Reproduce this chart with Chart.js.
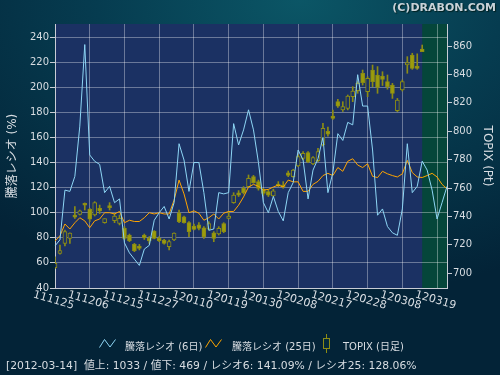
<!DOCTYPE html>
<html>
<head>
<meta charset="utf-8">
<script src="https://cdn.jsdelivr.net/npm/chart.js@4/dist/chart.umd.min.js"></script>
<style>
  body { margin: 0; }
  #wrap {
    position: relative; width: 500px; height: 375px; overflow: hidden;
    background: radial-gradient(ellipse 90% 80% at 60% 0%, #0b5666 0%, #063c50 45%, #032337 100%);
    font-family: 'DejaVu Sans', 'Noto Sans CJK JP', sans-serif; color: #d8dde2;
  }
  canvas { position: absolute; left: 0; top: 0; }
  .abs { position: absolute; white-space: nowrap; }
  #copy { right: 4px; top: 1px; font-size: 11px; font-weight: bold; color: #c9d2d8; text-shadow: 1px 1px 1px #022; }
  .lg { font-size: 10px; top: 338px; }
  #status { left: 6px; top: 356px; font-size: 10.8px; color: #d8dde2; }
</style>
</head>
<body>
<div id="wrap">
  <canvas id="chart" width="500" height="375"></canvas>
  <div id="copy" class="abs">(C)DRABON.COM</div>
  <svg class="abs" style="left:99px;top:338px" width="17" height="11"><polyline points="0.5,9.5 5.5,1.5 11,9 16.5,1.5" fill="none" stroke="#8ed6f5" stroke-width="1"/></svg>
  <div class="abs lg" style="left:125px">騰落レシオ (6日)</div>
  <svg class="abs" style="left:205px;top:338px" width="17" height="11"><polyline points="0.5,9.5 5.5,1.5 11,9 16.5,1.5" fill="none" stroke="#ffa500" stroke-width="1"/></svg>
  <div class="abs lg" style="left:232px">騰落レシオ (25日)</div>
  <svg class="abs" style="left:322px;top:334px" width="9" height="19"><line x1="4.5" y1="0" x2="4.5" y2="19" stroke="#8c8c14"/><rect x="1.5" y="4.5" width="6" height="10" fill="#032a3c" stroke="#8c8c14"/></svg>
  <div class="abs lg" style="left:343px">TOPIX (日足)</div>
  <div id="status" class="abs">[2012-03-14]&nbsp; 値上: 1033 / 値下: 469 / レシオ6: 141.09% / レシオ25: 128.06%</div>
</div>
<script>
// ---------- data ----------
const dates = [
  '111125', '111128', '111129', '111130', '111201', '111202', '111205',
  '111206', '111207', '111208', '111209', '111212', '111213', '111214',
  '111215', '111216', '111219', '111220', '111221', '111222', '111226',
  '111227', '111228', '111229', '111230', '120104', '120105', '120106',
  '120110', '120111', '120112', '120113', '120116', '120117', '120118',
  '120119', '120120', '120123', '120124', '120125', '120126', '120127',
  '120130', '120131', '120201', '120202', '120203', '120206', '120207',
  '120208', '120209', '120210', '120213', '120214', '120215', '120216',
  '120217', '120220', '120221', '120222', '120223', '120224', '120227',
  '120228', '120229', '120301', '120302', '120305', '120306', '120307',
  '120308', '120309', '120312', '120313', '120314', '120315', '120316',
  '120319', '120321', '120322',
];

// 騰落レシオ (6日)
const ratio6 = [
  73.6, 78.4, 118, 117, 129, 169, 234, 146, 141, 138.5,
  116, 121, 108, 111, 76, 68, 63, 58, 71, 74,
  94, 100, 105, 95, 108, 155, 142, 117, 140, 140,
  116, 86, 87, 116, 115, 116, 171, 154, 166, 182,
  166, 140, 108, 100, 113, 101, 93.5, 116, 124, 150,
  142, 111, 134, 143, 160, 116, 132, 163, 157.6, 172,
  170, 210, 185, 185, 150, 98, 103, 89, 84, 82,
  103, 155, 116, 121, 141.09, 134, 118, 95, 108, 121,
];

// 騰落レシオ (25日)
const ratio25 = [
  77.4, 81.6, 91, 87, 92, 96, 93.5, 88, 93.5, 95,
  100, 100, 99, 101, 92, 94, 93, 93, 96, 100,
  99, 100, 99, 99, 110, 126, 115, 100, 101.5, 99.6,
  94, 96, 99, 95, 99.6, 101, 101, 106, 112.6, 120.5,
  122.6, 121, 118, 118.6, 120.5, 122, 120.5, 126, 124.6, 124.6,
  117, 117, 122.6, 125, 129.6, 131.4, 129.6, 136, 133, 141,
  143, 138, 136, 139, 129, 128, 133, 131, 129.6, 128.5,
  131, 141.7, 132, 128.5, 128.06, 129.6, 131.4, 128.5, 122.6, 119,
];

// TOPIX (日足)
const topixOpen = [
  704, 714, 721, 724.6, 741, 741.5, 749.2, 745, 741, 745.7,
  735.6, 747.6, 737, 735, 731.6, 726.9, 720.3, 719.2, 726.9, 724.6,
  729.6, 724.6, 723.4, 718.7, 723.4, 742.6, 739.8, 735.6, 733.2, 734,
  732, 731, 728.5, 727.6, 735, 738.6, 749.7, 756.7, 759.8, 760.9,
  768, 764.5, 759, 757.5, 754.4, 762.8, 762, 770.7, 768, 775.5,
  780.9, 785, 777, 779.2, 790.3, 800, 810.7, 820.8, 815, 816.1,
  824.3, 828.5, 840.8, 827.8, 843.1, 839.6, 838.9, 834.9, 832.5, 814.5,
  829, 846.6, 853.7, 845.9, 857.9,
];
const topixHigh = [
  711.6, 719.9, 730.4, 728.5, 746.9, 744.5, 749.5, 745.7, 750.4, 748,
  738.4, 749.7, 742, 741, 732.8, 727.6, 721, 720.3, 727.6, 725.8,
  730, 725.8, 723.8, 723.4, 728.5, 744.5, 740.3, 736.3, 734.6, 735.6,
  732.8, 736.3, 729.3, 732.8, 735.6, 743.4, 756.7, 758.2, 761, 769.2,
  768.9, 765.6, 759.8, 758.7, 759.2, 764.5, 764.5, 772, 773.2, 783.3,
  785.6, 785.6, 782.2, 788, 805.5, 803, 814.9, 822.5, 820.8, 825.5,
  831.4, 834.9, 843.1, 838.4, 846.6, 845.5, 841.9, 839.6, 833.7, 823.1,
  836.1, 852.5, 854.9, 854.5, 860.7,
];
const topixLow = [
  703.4, 713.5, 719.2, 721, 738.6, 741, 744.5, 736.3, 740.3, 742,
  735.2, 744.5, 735.6, 734, 723.8, 722.2, 715.2, 716.4, 723.8, 721,
  724.2, 722.2, 720.5, 716.4, 723, 735.6, 735.2, 725.8, 730.5, 730.5,
  724.6, 730.5, 722.2, 726.9, 728.5, 738.2, 749.2, 754, 755.8, 760.4,
  763.4, 758.5, 755, 754, 754, 760.9, 759.8, 768, 767.6, 775,
  779.8, 777.8, 776.5, 778.5, 789.6, 796.5, 808.3, 816.8, 813.9, 815,
  820.8, 826.7, 832.5, 824.3, 831.4, 826.7, 832.2, 829.6, 823.1, 813.8,
  828.3, 840.8, 843.6, 843.6, 856,
];
const topixClose = [
  707, 715.9, 729.3, 728.2, 739.4, 744, 748, 738, 749.7, 743.8,
  738.4, 746.2, 740.3, 738.6, 724.6, 723, 715.9, 717.5, 724.8, 722.7,
  724.6, 722.9, 721, 722.2, 728.2, 736.3, 735.6, 729.3, 730.9, 731.6,
  725.8, 735, 724.6, 731.6, 729.3, 740.3, 755, 755, 756.7, 766.8,
  763.8, 759.8, 756.2, 755, 758, 761.6, 760.9, 768.9, 772.7, 782.2,
  784.4, 778.5, 781.4, 785.6, 802, 797.9, 809, 817.7, 817.3, 824.8,
  828.3, 833.7, 834.2, 837.2, 834.9, 830.9, 836.5, 831.4, 826.7, 822,
  834.9, 848.3, 844.3, 844.3, 856,
];

// ---------- styles ----------
const plotColor = '#1b3163';
const futureColor = '#05463a';
const gridColor = 'rgba(255,255,255,0.35)';
const axisColor = '#c8ccd4';
const textColor = '#d8dde2';
const olive = '#8c8c14';
const oliveFill = '#9c9c0c';
const fontFamily = "'DejaVu Sans', 'Noto Sans CJK JP', sans-serif";
const lastIndex = topixClose.length - 1;

const bodies = topixOpen.map((o, i) => [o, topixClose[i]]);
const wicks = topixLow.map((l, i) => [l, topixHigh[i]]);
const bodyFill = topixOpen.map((o, i) => (topixClose[i] >= o ? plotColor : oliveFill));

// plot area background + green zone after the last candle
const plotBackground = {
  id: 'plotBackground',
  beforeDraw(chart) {
    const { ctx, chartArea: a, scales } = chart;
    const xs = scales.x.getPixelForValue(lastIndex);
    ctx.save();
    ctx.fillStyle = plotColor;
    ctx.fillRect(a.left, a.top, a.right - a.left, a.bottom - a.top);
    ctx.fillStyle = futureColor;
    ctx.fillRect(xs, a.top, a.right - xs, a.bottom - a.top);
    ctx.restore();
  },
};

// slanted date labels under every 7th day
const dateLabels = {
  id: 'dateLabels',
  afterDraw(chart) {
    const { ctx, scales } = chart;
    ctx.save();
    ctx.font = '11px ' + fontFamily;
    ctx.fillStyle = textColor;
    ctx.textAlign = 'center';
    ctx.textBaseline = 'top';
    dates.forEach((d, i) => {
      if (i % 7 !== 0) return;
      const x = scales.x.getPixelForValue(i);
      ctx.save();
      ctx.translate(x, chart.chartArea.bottom + 7);
      ctx.rotate((16 * Math.PI) / 180);
      ctx.fillText(d, 0, 0);
      ctx.restore();
    });
    ctx.restore();
  },
};

const tickFont = { family: fontFamily, size: 10 };
const titleFont = { family: fontFamily, size: 12 };

new Chart(document.getElementById('chart'), {
  type: 'line',
  data: {
    labels: dates,
    datasets: [
      {
        label: '騰落レシオ (6日)',
        data: ratio6,
        yAxisID: 'y',
        borderColor: '#8ed6f5',
        borderWidth: 1,
        pointRadius: 0,
        order: 0,
      },
      {
        label: '騰落レシオ (25日)',
        data: ratio25,
        yAxisID: 'y',
        borderColor: '#ffa500',
        borderWidth: 1,
        pointRadius: 0,
        order: 1,
      },
      {
        type: 'bar',
        label: 'TOPIX (日足)',
        data: wicks,
        yAxisID: 'y2',
        backgroundColor: olive,
        barThickness: 1,
        grouped: false,
        order: 3,
      },
      {
        type: 'bar',
        label: 'TOPIX body',
        data: bodies,
        yAxisID: 'y2',
        backgroundColor: bodyFill,
        borderColor: olive,
        borderWidth: 1,
        borderSkipped: false,
        barThickness: 4,
        grouped: false,
        order: 2,
      },
    ],
  },
  options: {
    responsive: false,
    animation: false,
    layout: { padding: { top: 24 } },
    plugins: { legend: { display: false }, tooltip: { enabled: false } },
    scales: {
      x: {
        offset: false,
        ticks: { display: false, autoSkip: false },
        grid: {
          offset: false,
          drawTicks: false,
          color: (c) => (c.index % 7 === 0 ? gridColor : 'transparent'),
        },
        border: { color: axisColor },
        afterFit: (s) => { s.height = 87; },
      },
      y: {
        position: 'left',
        min: 40,
        max: 250.4,
        ticks: { stepSize: 20, includeBounds: false, color: textColor, font: tickFont, padding: 1 },
        grid: { color: gridColor, tickColor: axisColor, tickLength: 5 },
        border: { color: axisColor },
        title: { display: true, text: '騰落レシオ (%)', color: textColor, font: titleFont, padding: { top: 6 } },
        afterFit: (s) => { s.width = 55; },
      },
      y2: {
        position: 'right',
        min: 689.6,
        max: 875.5,
        ticks: { stepSize: 20, includeBounds: false, color: textColor, font: tickFont, padding: 1 },
        grid: { drawOnChartArea: false, tickColor: axisColor, tickLength: 5 },
        border: { color: axisColor },
        title: { display: true, text: 'TOPIX (Pt)', color: textColor, font: titleFont, padding: { top: 6 } },
        afterFit: (s) => { s.width = 53; },
      },
    },
  },
  plugins: [plotBackground, dateLabels],
});
</script>
</body>
</html>
